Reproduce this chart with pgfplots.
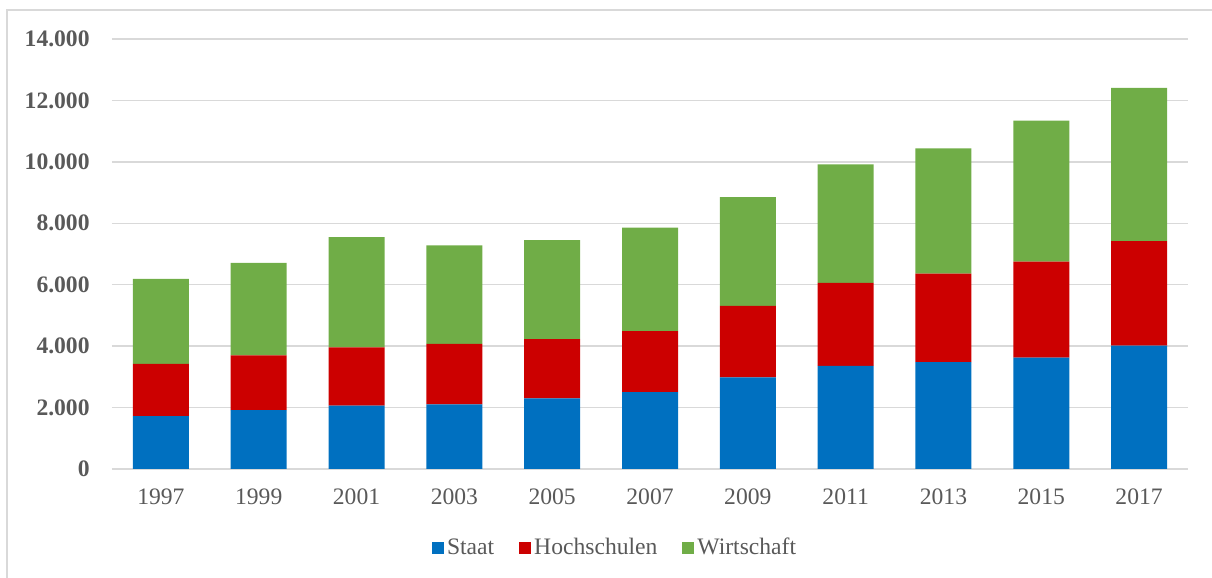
\documentclass[border=0pt]{standalone}
\usepackage{pgfplots}
\pgfplotsset{compat=1.18}
\usepackage{fontspec}
\setmainfont{Liberation Serif}
\definecolor{cstaat}{HTML}{0070C0}
\definecolor{choch}{HTML}{CC0000}
\definecolor{cwirt}{HTML}{70AD47}
\definecolor{cgrid}{HTML}{D9D9D9}
\definecolor{ctext}{HTML}{595959}
\definecolor{cframe}{HTML}{D9D9D9}
\begin{document}
\begin{tikzpicture}
\useasboundingbox (0,0) rectangle (606pt,289pt);
\draw[cframe, line width=0.8pt] (3.5pt,-20pt) rectangle (620pt,284pt);
\begin{axis}[
  at={(56pt,54.5pt)}, anchor=south west,
  scale only axis, width=538pt, height=215pt,
  ybar stacked, bar width=28pt,
  xmin=-0.5, xmax=10.5, ymin=0, ymax=14000,
  xtick=data,
  xticklabels={1997,1999,2001,2003,2005,2007,2009,2011,2013,2015,2017},
  ytick={0,2000,4000,6000,8000,10000,12000,14000},
  major tick length=0pt,
  axis line style={draw=none},
  ymajorgrids, grid style={cgrid, line width=0.75pt},
  /pgf/number format/assume math mode=true,
  /pgf/number format/.cd, 1000 sep={.}, /pgfplots/.cd,
  scaled y ticks=false,
  yticklabel style={font=\bfseries\fontsize{11.8}{14}\selectfont, text=ctext, anchor=east, inner sep=0pt, xshift=-11pt},
  xticklabel style={font=\fontsize{11.8}{14}\selectfont, text=ctext, anchor=base, inner sep=0pt, yshift=-18pt},
  legend style={at={(0.468,-0.184)}, anchor=center, draw=none, fill=none,
    font=\fontsize{11.8}{14}\selectfont, text=ctext, legend columns=-1,
    /tikz/every even column/.append style={column sep=11pt},
    nodes={inner sep=1.5pt}},
  legend image code/.code={\fill[#1] (0pt,-3pt) rectangle (6pt,3pt);},
]
\addplot[fill=cstaat, draw=none] coordinates {(0,1720) (1,1920) (2,2060) (3,2100) (4,2300) (5,2500) (6,2980) (7,3360) (8,3480) (9,3630) (10,4020)};
\addplot[fill=choch, draw=none] coordinates {(0,1700) (1,1780) (2,1900) (3,1970) (4,1930) (5,1990) (6,2330) (7,2700) (8,2880) (9,3120) (10,3400)};
\addplot[fill=cwirt, draw=none] coordinates {(0,2770) (1,3010) (2,3590) (3,3210) (4,3220) (5,3370) (6,3540) (7,3860) (8,4080) (9,4590) (10,4990)};
\legend{Staat,Hochschulen,Wirtschaft}
\end{axis}
\end{tikzpicture}
\end{document}
